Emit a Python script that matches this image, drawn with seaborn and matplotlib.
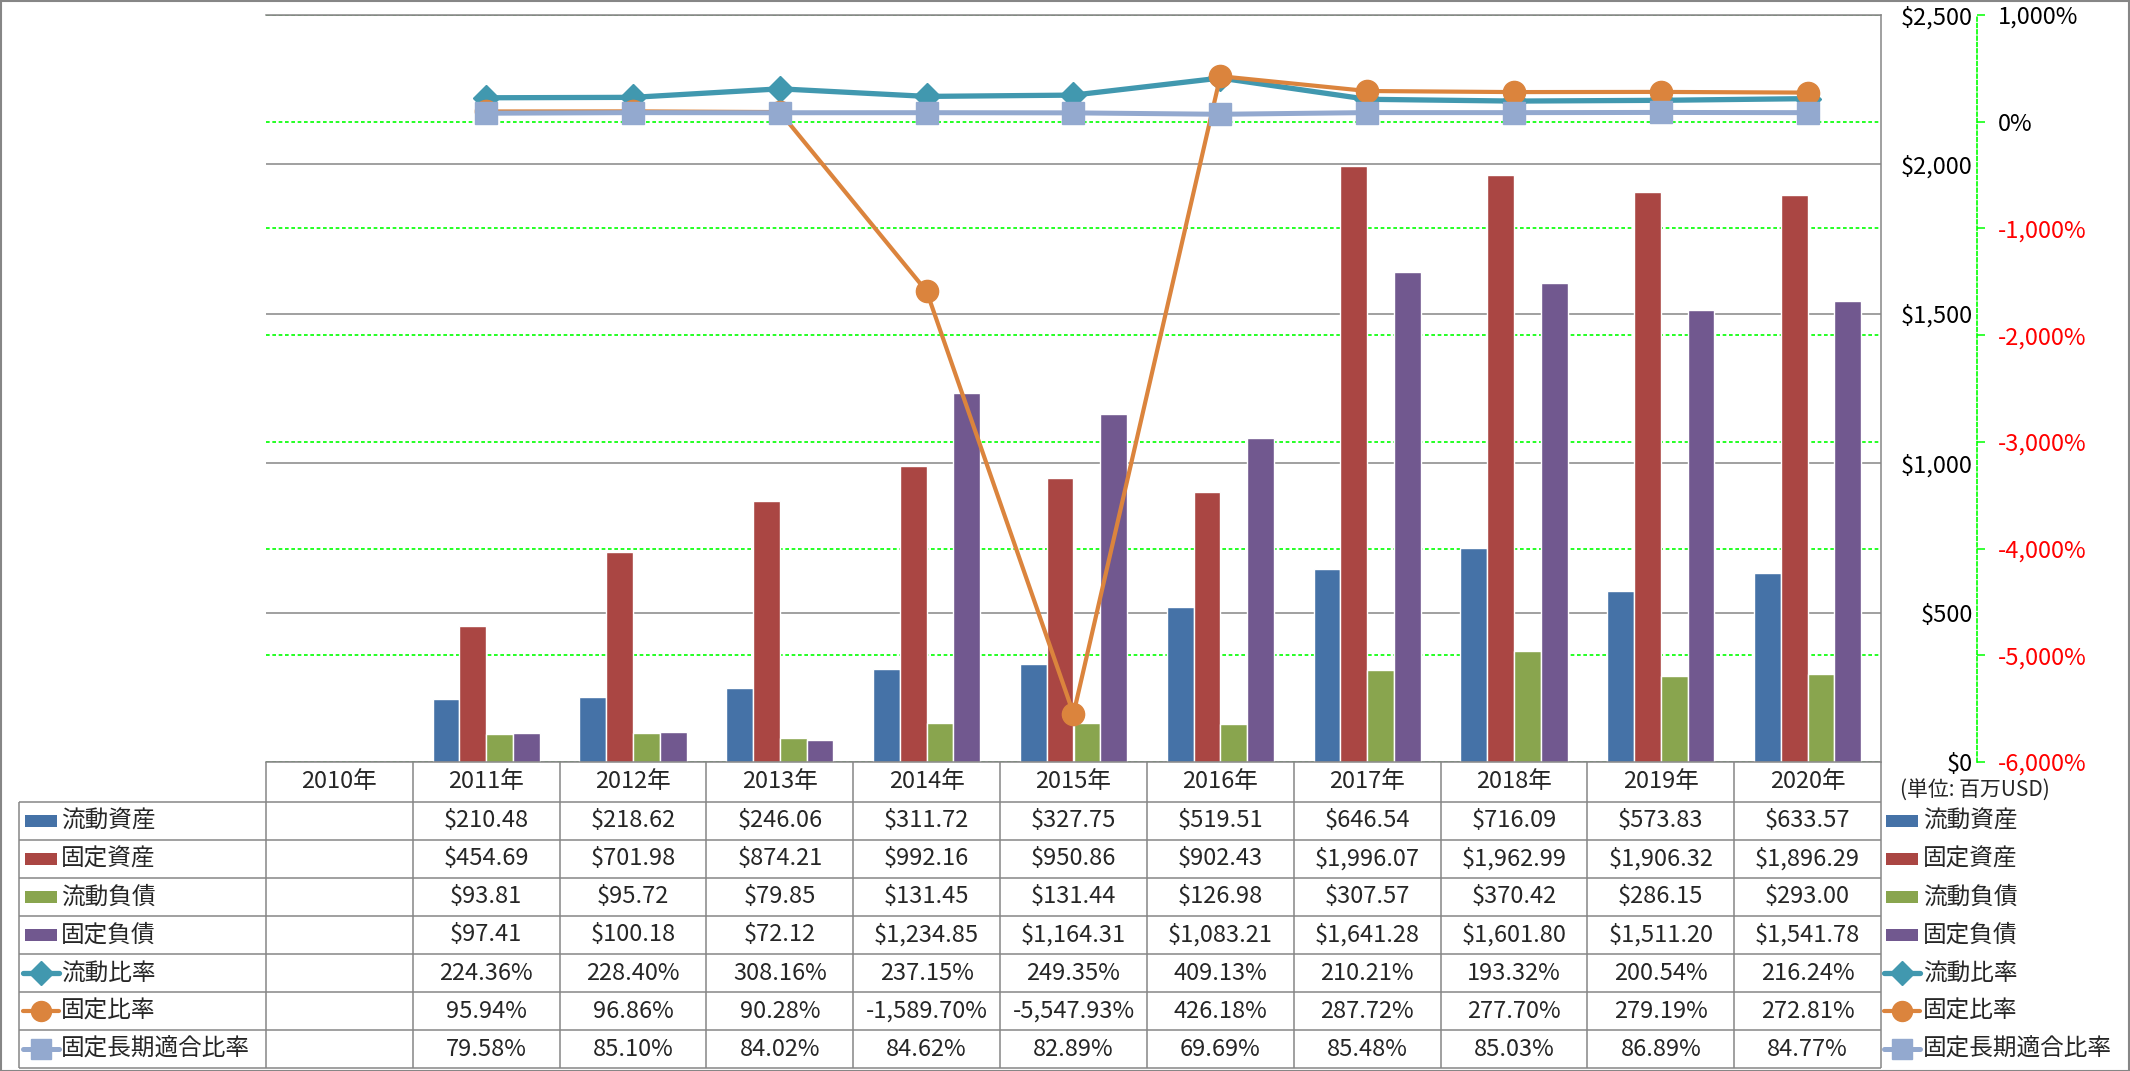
import numpy as np
import pandas as pd
import matplotlib
matplotlib.use('Agg')
import matplotlib.pyplot as plt
import seaborn as sns
from matplotlib.patches import Rectangle

years = ['2010年', '2011年', '2012年', '2013年', '2014年', '2015年',
         '2016年', '2017年', '2018年', '2019年', '2020年']

current_assets = [np.nan, 210.48, 218.62, 246.06, 311.72, 327.75, 519.51, 646.54, 716.09, 573.83, 633.57]
fixed_assets = [np.nan, 454.69, 701.98, 874.21, 992.16, 950.86, 902.43, 1996.07, 1962.99, 1906.32, 1896.29]
current_liab = [np.nan, 93.81, 95.72, 79.85, 131.45, 131.44, 126.98, 307.57, 370.42, 286.15, 293.00]
fixed_liab = [np.nan, 97.41, 100.18, 72.12, 1234.85, 1164.31, 1083.21, 1641.28, 1601.80, 1511.20, 1541.78]

current_ratio = [np.nan, 224.36, 228.40, 308.16, 237.15, 249.35, 409.13, 210.21, 193.32, 200.54, 216.24]
fixed_ratio = [np.nan, 95.94, 96.86, 90.28, -1589.70, -5547.93, 426.18, 287.72, 277.70, 279.19, 272.81]
fixed_lt_ratio = [np.nan, 79.58, 85.10, 84.02, 84.62, 82.89, 69.69, 85.48, 85.03, 86.89, 84.77]

bar_names = ['流動資産', '固定資産', '流動負債', '固定負債']
bar_values = [current_assets, fixed_assets, current_liab, fixed_liab]
bar_colors = ['#4572A7', '#AA4643', '#89A54E', '#71588F']

line_names = ['流動比率', '固定比率', '固定長期適合比率']
line_values = [current_ratio, fixed_ratio, fixed_lt_ratio]
line_colors = ['#4198AF', '#DB843D', '#93A9CF']
line_markers = ['D', 'o', 's']
line_ms = [13.5, 16, 15.5]
line_lw = [3.8, 3.0, 3.6]

dollar_ticks = [0, 500, 1000, 1500, 2000, 2500]
pct_ticks = [-6000, -5000, -4000, -3000, -2000, -1000, 0, 1000]

sns.set_theme(style='white')
plt.rcParams['font.family'] = ['Noto Sans CJK JP', 'DejaVu Sans']

GRAY = '#868686'
GREEN = '#00FF00'
FS = 17

W, H = 2130, 1071
L, R, T, B = 266, 1881, 15, 762
TB = 1069
fig = plt.figure(figsize=(W / 100, H / 100), dpi=100)
ax = fig.add_axes([L / W, 1 - B / H, (R - L) / W, (B - T) / H])
ax_g = ax.twinx()
ax2 = ax.twinx()

# ---- bars ----
bars_df = pd.DataFrame({
    'year': years * len(bar_names),
    'item': [n for n in bar_names for _ in years],
    'value': [v for vals in bar_values for v in vals],
}).dropna()
sns.barplot(data=bars_df, x='year', y='value', hue='item', order=years,
            hue_order=bar_names, palette=bar_colors, width=0.73, gap=0,
            saturation=1, errorbar=None, legend=False, ax=ax, zorder=2)
ax.set_xlabel('')
ax.set_ylabel('')
ax.set_ylim(0, 2500)
ax.set_yticks(dollar_ticks, labels=[f'${v:,}' for v in dollar_ticks])
ax.yaxis.tick_right()
ax.tick_params(axis='y', length=0, pad=66, labelsize=FS, labelcolor='black')
plt.setp(ax.get_yticklabels(), ha='right')
ax.tick_params(axis='x', length=0, labelbottom=False)
ax.yaxis.grid(True, color=GRAY, lw=1.1)
ax.set_axisbelow(True)
ax.spines['left'].set_visible(False)
for s in ['top', 'bottom', 'right']:
    ax.spines[s].set_color(GRAY)
    ax.spines[s].set_linewidth(1.1)

# ---- percent axis with green grid (behind bars) ----
ax_g.set_ylim(-6000, 1000)
ax_g.set_yticks(pct_ticks, labels=[f'{v:,}%' for v in pct_ticks])
ax_g.yaxis.grid(True, color=GREEN, ls=(0, (2.2, 1.6)), lw=1.2)
for s in ['left', 'top', 'bottom']:
    ax_g.spines[s].set_visible(False)
ax_g.spines['right'].set_position(('outward', 69))
ax_g.spines['right'].set_color(GREEN)
ax_g.spines['right'].set_linestyle((0, (2.2, 1.6)))
ax_g.spines['right'].set_linewidth(1.2)
ax_g.tick_params(axis='y', direction='out', length=6, width=1.1, color=GREEN,
                 pad=9, labelsize=FS)
for lab, v in zip(ax_g.get_yticklabels(), pct_ticks):
    lab.set_color('#FF0000' if v < 0 else 'black')

# ---- ratio lines ----
xpos = np.arange(len(years))
for name, vals, c, m, ms, lw in zip(line_names, line_values, line_colors,
                                    line_markers, line_ms, line_lw):
    sns.lineplot(x=xpos[1:], y=vals[1:], ax=ax2, color=c, linewidth=lw,
                 marker=m, markersize=ms, markeredgecolor=c, markeredgewidth=1)
ax2.set_ylim(-6000, 1000)
ax2.set_yticks([])
ax2.set_xlabel('')
ax2.set_ylabel('')
for s in ax2.spines.values():
    s.set_visible(False)

ax_g.set_zorder(0)
ax.set_zorder(1)
ax2.set_zorder(2)
ax.patch.set_visible(False)
ax2.patch.set_visible(False)
ax.set_xlim(-0.5, len(years) - 0.5)

# ---- data table ----
cat_w = (R - L) / len(years)
def xd(p):
    return -0.5 + (p - L) / cat_w

ax_t = fig.add_axes([L / W, 1 - TB / H, (R - L) / W, (TB - B) / H])
ax_t.set_xlim(-0.5, len(years) - 0.5)
ax_t.set_ylim(TB - B, 0)
ax_t.axis('off')

hdr, row_h = 40, 38
n_rows = len(bar_names) + len(line_names)
bottom = hdr + row_h * n_rows
ax_t.vlines(np.arange(len(years) + 1) - 0.5, 0, bottom, color=GRAY, lw=1.1, clip_on=False)
ax_t.vlines(xd(19), hdr, bottom, color=GRAY, lw=1.1, clip_on=False)
ax_t.hlines([hdr + row_h * k for k in range(n_rows + 1)], xd(19), len(years) - 0.5,
            color=GRAY, lw=1.1, clip_on=False)

for i, y in enumerate(years):
    ax_t.text(i, hdr / 2, y, ha='center', va='center', fontsize=FS)

ax_t.text(xd(1900), 28, '(単位: 百万USD)', ha='left', va='center', fontsize=15,
          clip_on=False)

rows = []
for n, vals, c in zip(bar_names, bar_values, bar_colors):
    rows.append((n, [('' if np.isnan(v) else f'${v:,.2f}') for v in vals], c, None, None, None))
for n, vals, c, m, ms, lw in zip(line_names, line_values, line_colors, line_markers, line_ms, line_lw):
    rows.append((n, [('' if np.isnan(v) else f'{v:,.2f}%') for v in vals], c, m, ms, lw))

for k, (name, texts, c, m, ms, lw) in enumerate(rows):
    yc = hdr + row_h * k + row_h / 2
    for i, t in enumerate(texts):
        ax_t.text(i, yc, t, ha='center', va='center', fontsize=FS)
    for k0, k1, tx in [(25, 57, 61), (1886, 1918, 1923)]:
        if m is None:
            ax_t.add_patch(Rectangle((xd(k0), yc - 6), (k1 - k0) / cat_w, 12,
                                     color=c, lw=0, clip_on=False))
        else:
            ax_t.plot([xd(k0 - 2), xd(k1 + 2)], [yc, yc], color=c, lw=lw, clip_on=False)
            ax_t.plot([xd((k0 + k1) / 2)], [yc], marker=m, ms=ms * 0.9, color=c,
                      mec=c, clip_on=False)
        ax_t.text(xd(tx), yc, name, ha='left', va='center', fontsize=FS, clip_on=False)

# chart border
fig.patches.append(Rectangle((0.5 / W, 0.5 / H), 1 - 1.5 / W, 1 - 1.5 / H,
                             transform=fig.transFigure, fill=False,
                             edgecolor=GRAY, lw=1.5))

fig.savefig('out.png', dpi=100)
